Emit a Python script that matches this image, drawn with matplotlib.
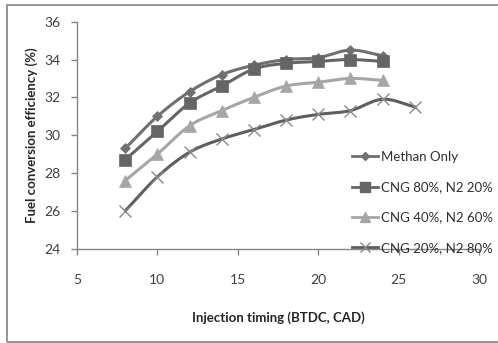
import numpy as np
import matplotlib
matplotlib.use("Agg")
from matplotlib import pyplot as plt
from matplotlib.patches import Rectangle

# data
timing = [8, 10, 12, 14, 16, 18, 20, 22, 24]
timing_cng20 = [8, 10, 12, 14, 16, 18, 20, 22, 24, 26]
methan_only = [29.3, 31.0, 32.3, 33.2, 33.7, 34.0, 34.1, 34.5, 34.2]
cng80_n20 = [28.7, 30.2, 31.7, 32.6, 33.5, 33.8, 33.9, 34.0, 33.9]
cng40_n60 = [27.6, 29.0, 30.5, 31.3, 32.0, 32.6, 32.8, 33.0, 32.9]
cng20_n80 = [26.0, 27.8, 29.1, 29.8, 30.3, 30.8, 31.1, 31.3, 31.9, 31.5]
labels = ["Methan Only", "CNG 80%, N2 20%", "CNG 40%, N2 60%", "CNG 20%, N2 80%"]

plt.rcParams['font.family'] = ['Lato', 'DejaVu Sans']


def smooth(x, y, n=20):
    # Excel-like smoothed line (Catmull-Rom through the points)
    x = np.asarray(x, float)
    y = np.asarray(y, float)
    px = np.concatenate([[2 * x[0] - x[1]], x, [2 * x[-1] - x[-2]]])
    py = np.concatenate([[2 * y[0] - y[1]], y, [2 * y[-1] - y[-2]]])
    xs, ys = [], []
    t = np.linspace(0, 1, n)
    for i in range(1, len(px) - 2):
        for p, out in ((px, xs), (py, ys)):
            p0, p1, p2, p3 = p[i - 1], p[i], p[i + 1], p[i + 2]
            out.extend(0.5 * ((2 * p1) + (-p0 + p2) * t
                              + (2 * p0 - 5 * p1 + 4 * p2 - p3) * t ** 2
                              + (-p0 + 3 * p1 - 3 * p2 + p3) * t ** 3))
    return xs, ys


fig = plt.figure(figsize=(4.98, 3.43), dpi=100)
ax = fig.add_axes([0.1546, 0.275, 0.962 - 0.1546, 0.9367 - 0.275])

# outer chart frame
fig.patches.append(Rectangle((6.5 / 498, 1.5 / 343), 1.2, 337 / 343,
                             transform=fig.transFigure, fill=False,
                             edgecolor='#8c8c8c', linewidth=1.3))

series = [
    (timing, methan_only, '#707070', 'D', 5, '#707070'),
    (timing, cng80_n20, '#656565', 's', 8, '#656565'),
    (timing, cng40_n60, '#a6a6a6', '^', 8, '#a6a6a6'),
    (timing_cng20, cng20_n80, '#5e5e5e', 'x', 9, '#8a8a8a'),
]
for (x, y, col, mk, ms, mcol), lab in zip(series, labels):
    sx, sy = smooth(x, y)
    ax.plot(sx, sy, color=col, linewidth=2.2, solid_capstyle='round', zorder=2)
    ax.plot(x, y, linestyle='none', marker=mk, markersize=ms, color=mcol,
            markeredgewidth=1.0 if mk == 'x' else 0.5, zorder=3)
    ax.plot([], [], color=col, linewidth=2.0, marker=mk,
            markersize=ms * 0.85, markerfacecolor=mcol, markeredgecolor=mcol,
            label=lab)

ax.set_xlim(5, 30)
ax.set_ylim(24, 36)
ax.set_xticks([5, 10, 15, 20, 25, 30])
ax.set_yticks([24, 26, 28, 30, 32, 34, 36])
for s in ['top', 'right']:
    ax.spines[s].set_visible(False)
for s in ['left', 'bottom']:
    ax.spines[s].set_color('#868686')
    ax.spines[s].set_linewidth(1.0)
ax.tick_params(axis='both', direction='out', length=4, width=1,
               color='#868686', labelsize=10, labelcolor='#404040')
ax.tick_params(axis='x', pad=14)
ax.tick_params(axis='y', pad=8)

ax.set_xlabel('Injection timing (BTDC, CAD)', fontsize=9.5,
              fontweight='bold', color='#262626')
ax.set_ylabel('Fuel conversion efficiency (%)', fontsize=9.5,
              fontweight='bold', color='#262626')
ax.xaxis.set_label_coords(0.5, -0.275)
ax.yaxis.set_label_coords(-0.097, 0.5)

leg = ax.legend(loc='upper left', bbox_to_anchor=(0.683, 0.43), frameon=False,
                fontsize=9.5, handlelength=2.0, handletextpad=0.2,
                labelspacing=1.38, borderaxespad=0, borderpad=0)
for t in leg.get_texts():
    t.set_color('#303030')

fig.savefig('out.png', dpi=100)
